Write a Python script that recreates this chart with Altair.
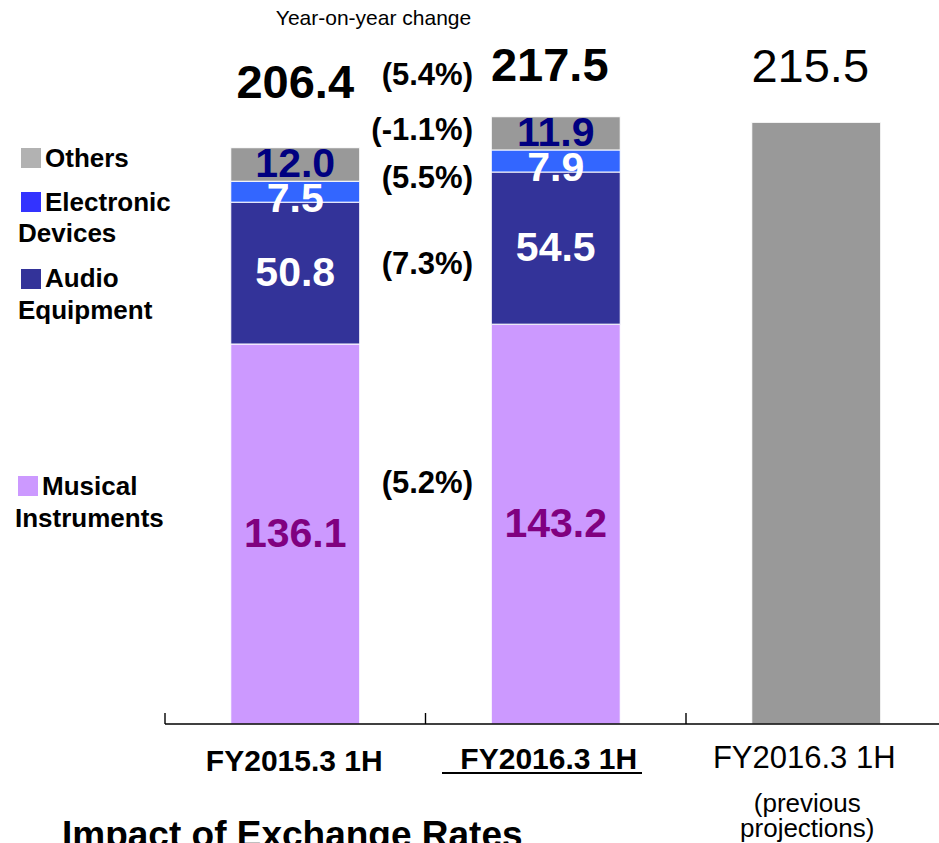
import altair as alt
import pandas as pd

# ---------------- data ----------------
periods = ["FY2015.3 1H", "FY2016.3 1H", "FY2016.3 1H"]
period_note = "(previous\nprojections)"
segments = ["Musical Instruments", "Audio Equipment", "Electronic Devices", "Others"]
sales_fy2015 = [136.1, 50.8, 7.5, 12.0]
sales_fy2016 = [143.2, 54.5, 7.9, 11.9]
sales_previous_projection = 215.5
yoy_segment = ["(5.2%)", "(7.3%)", "(5.5%)", "(-1.1%)"]
yoy_total = "(5.4%)"
yoy_heading = "Year-on-year change"
footer_heading = "Impact of Exchange Rates"

# ---------------- styling / layout ----------------
FONT = "Liberation Sans, Arial, Helvetica, sans-serif"
seg_fill = ["#CC99FF", "#333399", "#3366FF", "#999999"]
seg_swatch = ["#CC99FF", "#333399", "#3333FF", "#B2B2B2"]
seg_label_color = ["#800080", "#FFFFFF", "#FFFFFF", "#000080"]
projection_fill = "#999999"

W, H = 939, 843
AXIS_Y = 724
PX_PER_UNIT = 2.792
X0, STEP = 165, 260.5
BAR_HALF = 0.2475  # half bar width, in band units

x_scale = alt.Scale(domain=[0, 3], range=[X0, X0 + 3 * STEP], nice=False, zero=False)
y_scale = alt.Scale(domain=[0, 250], range=[AXIS_Y, AXIS_Y - 250 * PX_PER_UNIT],
                    nice=False, zero=False)

# ---------------- stacked segments ----------------
rows = []
for p_idx, values in enumerate([sales_fy2015, sales_fy2016]):
    base = 0.0
    for seg, v in zip(segments, values):
        rows.append(dict(pos=p_idx, seg=seg, value=v, lo=base, hi=base + v,
                         mid=base + v / 2))
        base += v
rows.append(dict(pos=2, seg="Projection", value=sales_previous_projection,
                 lo=0.0, hi=sales_previous_projection, mid=sales_previous_projection / 2))
bars_df = pd.DataFrame(rows)
bars_df["xa"] = bars_df["pos"] + 0.5 - BAR_HALF
bars_df["xb"] = bars_df["pos"] + 0.5 + BAR_HALF
bars_df["xc"] = bars_df["pos"] + 0.5
bars_df["label"] = bars_df["value"].map(lambda v: f"{v:.1f}")

bars = alt.Chart(bars_df).mark_rect(stroke="white", strokeWidth=1).encode(
    x=alt.X("xa:Q", scale=x_scale, axis=None),
    x2="xb:Q",
    y=alt.Y("lo:Q", scale=y_scale, axis=None),
    y2="hi:Q",
    fill=alt.Fill("seg:N", scale=alt.Scale(domain=segments + ["Projection"],
                                           range=seg_fill + [projection_fill]),
                  legend=None),
)

seg_labels_df = bars_df[bars_df["seg"] != "Projection"]
label_color = alt.Color("seg:N", scale=alt.Scale(domain=segments, range=seg_label_color),
                        legend=None)


def seg_text(df, dy):
    return alt.Chart(df).mark_text(font=FONT, fontSize=41, fontWeight="bold",
                                   baseline="middle", align="center", dy=dy).encode(
        x=alt.X("xc:Q", scale=x_scale, axis=None),
        y=alt.Y("mid:Q", scale=y_scale, axis=None),
        text="label:N",
        color=label_color,
    )


seg_main = seg_text(seg_labels_df[seg_labels_df["seg"] != "Electronic Devices"], 1)
seg_thin = seg_text(seg_labels_df[seg_labels_df["seg"] == "Electronic Devices"], 8)

layers = [bars, seg_main, seg_thin]

# ---------------- totals above bars ----------------
totals = [sum(sales_fy2015), sum(sales_fy2016), sales_previous_projection]
total_style = [("bold", 47, 0, -50), ("bold", 47, -6, -36), ("normal", 47, -6, -40)]
for i, (tot, (weight, size, dx, dy)) in enumerate(zip(totals, total_style)):
    df = pd.DataFrame({"xc": [i + 0.5], "v": [tot], "t": [f"{tot:.1f}"]})
    layers.append(
        alt.Chart(df).mark_text(font=FONT, fontSize=size, fontWeight=weight,
                                align="center", baseline="alphabetic", dx=dx, dy=dy,
                                color="black").encode(
            x=alt.X("xc:Q", scale=x_scale, axis=None),
            y=alt.Y("v:Q", scale=y_scale, axis=None),
            text="t:N",
        )
    )

# ---------------- x axis (domain line, ticks, labels) ----------------
one = pd.DataFrame({"a": [0]})
layers.append(alt.Chart(one).mark_rule(color="black", strokeWidth=1.6).encode(
    x=alt.value(X0), x2=alt.value(W), y=alt.value(AXIS_Y)))
ticks_df = pd.DataFrame({"edge": list(range(len(periods)))})
layers.append(alt.Chart(ticks_df).mark_rule(color="black", strokeWidth=1.4).encode(
    x=alt.X("edge:Q", scale=x_scale, axis=None),
    y=alt.value(AXIS_Y - 11), y2=alt.value(AXIS_Y)))

axis_label_style = [("bold", 30, -1, 771), ("bold", 30, -7, 769), ("normal", 31, -12, 768)]
for i, (name, (weight, size, dx, base)) in enumerate(zip(periods, axis_label_style)):
    df = pd.DataFrame({"xc": [i + 0.5], "t": [name]})
    layers.append(
        alt.Chart(df).mark_text(font=FONT, fontSize=size, fontWeight=weight,
                                align="center", baseline="alphabetic", dx=dx,
                                color="black").encode(
            x=alt.X("xc:Q", scale=x_scale, axis=None),
            y=alt.value(base),
            text="t:N",
        )
    )
# underline of the current-period label
layers.append(alt.Chart(one).mark_rule(color="black", strokeWidth=2.2).encode(
    x=alt.value(442), x2=alt.value(642), y=alt.value(773)))
# note under the projection label
note_df = pd.DataFrame({"xc": [2.5], "t": [period_note]})
layers.append(alt.Chart(note_df).mark_text(font=FONT, fontSize=26, align="center",
                                           baseline="alphabetic", dx=-9, lineBreak="\n",
                                           lineHeight=25, color="black").encode(
    x=alt.X("xc:Q", scale=x_scale, axis=None),
    y=alt.value(812),
    text="t:N",
))

# ---------------- year-on-year column ----------------
def fixed_text(text, x, y, size, weight="normal", align="left", color="black"):
    return alt.Chart(pd.DataFrame({"t": [text]})).mark_text(
        font=FONT, fontSize=size, fontWeight=weight, align=align,
        baseline="alphabetic", color=color).encode(
        x=alt.value(x), y=alt.value(y), text="t:N")


layers.append(fixed_text(yoy_heading, 373.5, 25, 21, align="center"))
layers.append(fixed_text(yoy_total, 473, 85, 31, "bold", "right"))
yoy_baselines = [493, 274, 188, 140]
for txt, yb in zip(yoy_segment, yoy_baselines):
    layers.append(fixed_text(txt, 473, yb, 31, "bold", "right"))

# ---------------- hand-placed legend ----------------
legend_layout = {
    "Others": ((21, 148), [(45, 167)]),
    "Electronic Devices": ((21, 192), [(45, 211), (18, 242)]),
    "Audio Equipment": ((21, 269), [(45, 287), (18, 319)]),
    "Musical Instruments": ((18, 476), [(42, 495), (15, 527)]),
}
for seg, swatch in zip(segments, seg_swatch):
    (sx, sy), line_pos = legend_layout[seg]
    layers.append(alt.Chart(one).mark_rect(color=swatch).encode(
        x=alt.value(sx), x2=alt.value(sx + 20), y=alt.value(sy), y2=alt.value(sy + 20)))
    words = seg.split(" ", 1)
    for word, (tx, ty) in zip(words, line_pos):
        layers.append(fixed_text(word, tx, ty, 26, "bold"))

# ---------------- section heading below ----------------
layers.append(fixed_text(footer_heading, 62, 847, 37, "bold"))

chart = alt.layer(*layers).resolve_scale(color="independent", fill="independent").properties(
    width=W, height=H, padding=0, autosize=alt.AutoSizeParams(type="none"),
    background="white",
).configure_view(strokeWidth=0)

chart.save("out.html", embed_options={"renderer": "svg", "actions": False})
